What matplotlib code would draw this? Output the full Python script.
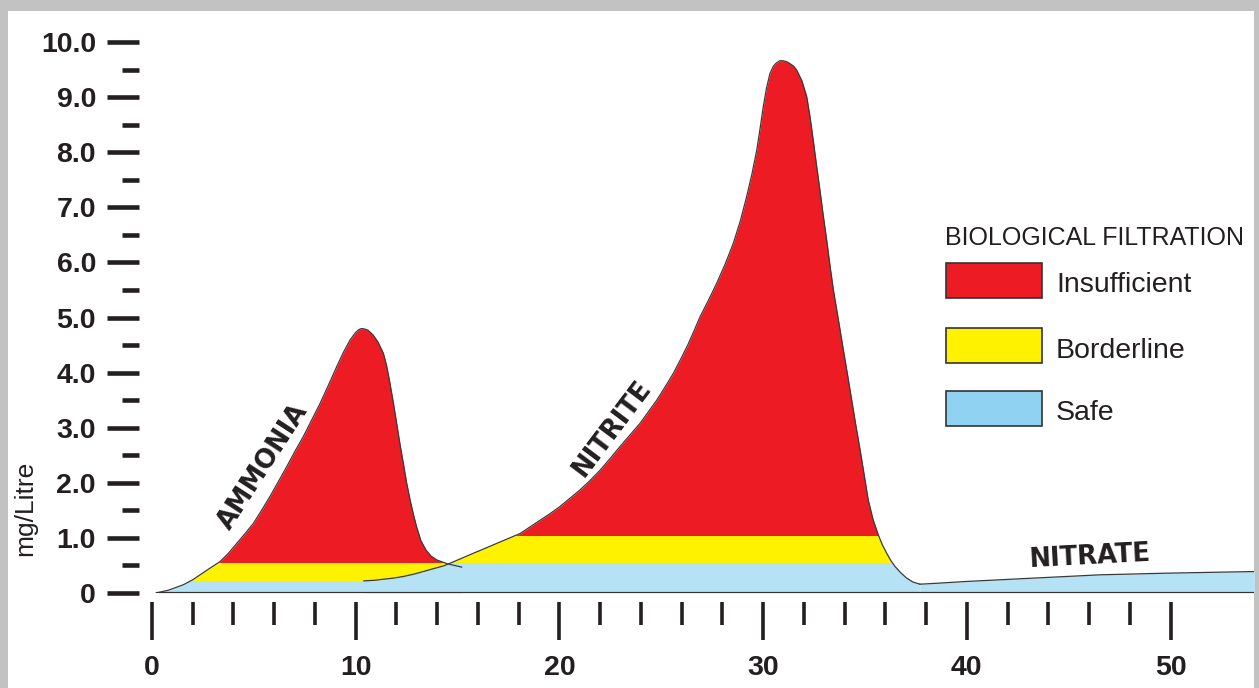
import matplotlib.pyplot as plt
from matplotlib.patches import Rectangle
from matplotlib.ticker import FixedLocator
from matplotlib import font_manager as fm

# curves (day, mg/Litre)
ammonia_x = [0.2, 0.8, 1.54, 2.0, 2.36, 2.8, 3.34, 3.75, 4.16, 4.55, 4.97, 5.38, 5.79, 6.2,
             6.61, 7.0, 7.43, 7.84, 8.25, 8.66, 9.07, 9.4, 9.72, 10.0, 10.15, 10.29, 10.45,
             10.6, 10.86, 11.1, 11.36, 11.52, 11.68, 11.85, 12.01, 12.17, 12.34, 12.5,
             12.67, 12.83, 12.99, 13.2, 13.45, 13.7, 13.98, 14.5, 15.2]
ammonia_y = [0.0, 0.05, 0.15, 0.24, 0.33, 0.44, 0.57, 0.72, 0.9, 1.07, 1.26, 1.5, 1.75, 2.02,
             2.29, 2.56, 2.84, 3.14, 3.44, 3.77, 4.11, 4.37, 4.59, 4.73, 4.78, 4.80, 4.79,
             4.77, 4.68, 4.55, 4.35, 4.12, 3.81, 3.45, 3.08, 2.71, 2.35, 2.0,
             1.69, 1.43, 1.20, 0.95, 0.78, 0.67, 0.6, 0.53, 0.47]

nitrite_x = [10.4, 10.9, 11.36, 11.85, 12.34, 12.83, 13.32, 13.8, 14.3, 14.63, 15.2, 15.77,
             16.35, 16.92, 17.5, 18.07, 18.56, 19.05, 19.54, 20.03, 20.52, 21.01, 21.5, 22.0,
             22.49, 22.98, 23.47, 23.96, 24.37, 24.78, 25.19, 25.6, 25.95, 26.3, 26.6, 26.9,
             27.3, 27.72, 28.15, 28.54, 28.88, 29.19, 29.45, 29.69, 29.86, 30.01, 30.17,
             30.34, 30.5, 30.65, 30.82, 30.99, 31.17, 31.35, 31.5, 31.65, 31.9, 32.14, 32.3,
             32.46, 32.62, 32.79, 32.95, 33.12, 33.28, 33.45, 33.7, 33.94, 34.15, 34.35,
             34.55, 34.76, 34.96, 35.16, 35.4, 35.66, 35.86, 36.07, 36.27, 36.48, 36.75,
             37.05, 37.35, 37.7]
nitrite_y = [0.22, 0.23, 0.25, 0.27, 0.30, 0.34, 0.39, 0.44, 0.49, 0.54, 0.63, 0.72,
             0.81, 0.9, 0.99, 1.08, 1.2, 1.32, 1.44, 1.57, 1.72, 1.87, 2.04, 2.23,
             2.44, 2.66, 2.87, 3.08, 3.29, 3.5, 3.74, 3.99, 4.24, 4.5, 4.75, 5.01,
             5.3, 5.62, 5.98, 6.35, 6.75, 7.19, 7.6, 8.04, 8.45, 8.83, 9.17,
             9.43, 9.56, 9.62, 9.66, 9.66, 9.64, 9.6, 9.56, 9.49, 9.3, 9.01, 8.65,
             8.22, 7.77, 7.31, 6.86, 6.41, 5.95, 5.5, 4.95, 4.41, 3.95, 3.5,
             3.05, 2.6, 2.15, 1.69, 1.33, 1.05, 0.87, 0.72, 0.59, 0.48, 0.37,
             0.27, 0.2, 0.16]

nitrate_x = [37.7, 38.2, 38.68, 40.0, 43.27, 46.54, 49.81, 54.2]
nitrate_y = [0.16, 0.17, 0.18, 0.21, 0.27, 0.33, 0.36, 0.39]

# safe / borderline / insufficient limits
ammonia_cuts = [0.24, 0.56]
nitrite_cuts = [0.56, 1.06]

legend_title = 'BIOLOGICAL FILTRATION'
legend_labels = ['Insufficient', 'Borderline', 'Safe']

y_ticks = [0, 1, 2, 3, 4, 5, 6, 7, 8, 9, 10]
y_labels = ['0', '1.0', '2.0', '3.0', '4.0', '5.0', '6.0', '7.0', '8.0', '9.0', '10.0']
y_minor = [0.5, 1.5, 2.5, 3.5, 4.5, 5.5, 6.5, 7.5, 8.5, 9.5]
x_ticks = [0, 10, 20, 30, 40, 50]
x_minor = [2, 4, 6, 8, 12, 14, 16, 18, 22, 24, 26, 28, 32, 34, 36, 38, 42, 44, 46, 48]

red = '#ed1c24'
yellow = '#fff200'
blue = '#b6e2f6'
blue_key = '#8fd2f2'
dark = '#231f20'
band_colors = [blue, yellow, red]

W, H = 1259, 688
plt.rcParams['font.family'] = ['Liberation Sans', 'DejaVu Sans']

fig = plt.figure(figsize=(W / 100, H / 100), dpi=100)
fig.patch.set_facecolor('#c2c2c2')
fig.add_artist(Rectangle((8 / W, 0), (1254 - 8) / W, (688 - 11) / H, transform=fig.transFigure,
                         facecolor='white', edgecolor='none', zorder=-5))

ax = fig.add_axes([152 / W, (688 - 593) / H, (1254 - 152) / W, (593 - 30) / H])
ax.set_facecolor('none')
ax.set_xlim(0, 1102 / 20.37)
ax.set_ylim(0, 563 / 55.1)


def fill_bands(xs, ys, cuts):
    edges = [0] + cuts + [12]
    for lo, hi, col in zip(edges[:-1], edges[1:], band_colors):
        poly = ax.fill_between(xs, 0, ys, color=col, lw=0)
        poly.set_clip_path(Rectangle((0, lo), 60, hi - lo, transform=ax.transData))


fill_bands(ammonia_x, ammonia_y, ammonia_cuts)
fill_bands(nitrite_x, nitrite_y, nitrite_cuts)
ax.fill_between(nitrate_x, 0, nitrate_y, color=blue, lw=0)

for xs, ys in [(ammonia_x, ammonia_y), (nitrite_x, nitrite_y), (nitrate_x, nitrate_y)]:
    ax.plot(xs, ys, color='#3a3a3a', lw=0.9, solid_joinstyle='round')
ax.hlines(0, ammonia_x[0], nitrate_x[-1], color='#333333', lw=1.6)

# ticks sit off the plot like in the original drawing
for side in ax.spines:
    ax.spines[side].set_color('none')
ax.spines['left'].set_position(('outward', 9.4))
ax.spines['bottom'].set_position(('outward', 6.5))

ax.set_yticks(y_ticks, y_labels, fontweight='bold')
ax.set_xticks(x_ticks, [str(t) for t in x_ticks], fontweight='bold')
ax.yaxis.set_minor_locator(FixedLocator(y_minor))
ax.xaxis.set_minor_locator(FixedLocator(x_minor))
ax.tick_params(axis='y', which='major', length=23, width=3.3, pad=8, labelsize=20.5,
               color=dark, labelcolor=dark)
ax.tick_params(axis='y', which='minor', length=12.2, width=3.3, color=dark)
ax.tick_params(axis='x', which='major', length=27.4, width=2.6, pad=10.5, labelsize=20.5,
               color=dark, labelcolor=dark)
ax.tick_params(axis='x', which='minor', length=16.6, width=2.6, color=dark)

# curve names
name_font = dict(family='DejaVu Sans', fontweight='bold', fontsize=18.5, color=dark,
                 ha='center', va='center', rotation_mode='anchor')
ax.text(5.45, 2.3, 'AMMONIA', rotation=57, **name_font)
ax.text(22.58, 2.99, 'NITRITE', rotation=53, **name_font)
ax.text(46.05, 0.66, 'NITRATE', rotation=3, **name_font)

fig.text(25 / W, 1 - 508 / H, 'mg/Litre', rotation=90, ha='center', va='center',
         fontsize=19, color=dark)

# key
names = {f.name for f in fm.fontManager.ttflist}
if 'Liberation Sans Narrow' in names:
    title_family, title_size = 'Liberation Sans Narrow', 21
else:
    title_family, title_size = 'Liberation Sans', 18
fig.text(945 / W, 1 - 245 / H, legend_title, family=title_family, fontsize=title_size,
         va='baseline', color=dark)

key_tops = [263, 328, 391]
key_colors = [red, yellow, blue_key]
for top, col, lab in zip(key_tops, key_colors, legend_labels):
    fig.add_artist(Rectangle((946 / W, 1 - (top + 35) / H), 96 / W, 35 / H,
                             transform=fig.transFigure, facecolor=col,
                             edgecolor='#333333', lw=1.2))
    fig.text(1056 / W, 1 - (top + 29.5) / H, lab, fontsize=20.5, va='baseline', color=dark)

fig.savefig('out.png', dpi=100)
